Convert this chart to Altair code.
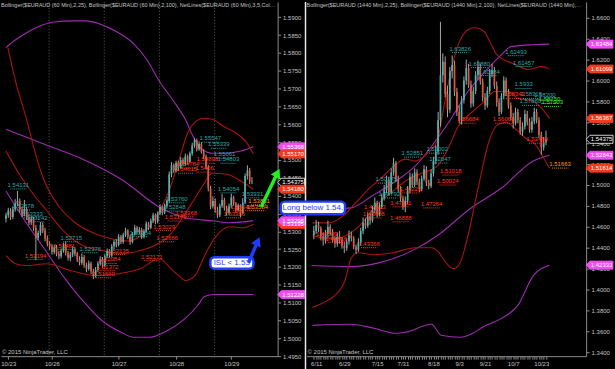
import altair as alt
import pandas as pd

# ---------------- left panel: EURAUD 60 min ----------------
L_open = [
 1.5335,1.5345,1.5358,1.5340,1.5362,1.5378,1.5385,1.5360,
 1.5348,1.5362,1.5340,1.5325,1.5335,1.5310,1.5282,1.5295,
 1.5318,1.5302,1.5280,1.5265,1.5258,1.5242,1.5255,1.5238,
 1.5230,1.5246,1.5260,1.5240,1.5225,1.5235,1.5250,1.5238,
 1.5221,1.5212,1.5228,1.5205,1.5195,1.5210,1.5188,1.5175,
 1.5192,1.5210,1.5222,1.5205,1.5230,1.5245,1.5232,1.5258,
 1.5270,1.5262,1.5285,1.5270,1.5290,1.5302,1.5285,1.5270,
 1.5292,1.5310,1.5298,1.5305,1.5285,1.5300,1.5322,1.5310,
 1.5330,1.5345,1.5328,1.5350,1.5368,1.5352,1.5370,1.5385,
 1.5460,1.5485,1.5470,1.5492,1.5478,1.5500,1.5488,1.5510,
 1.5495,1.5518,1.5540,1.5555,1.5530,1.5545,1.5522,1.5510,
 1.5480,1.5420,1.5370,1.5385,1.5360,1.5345,1.5372,1.5388,
 1.5365,1.5352,1.5370,1.5395,1.5378,1.5360,1.5372,1.5352,
 1.5380,1.5455,1.5470,1.5440]
L_close = [
 1.5345,1.5358,1.5340,1.5362,1.5378,1.5385,1.5360,1.5348,
 1.5362,1.5340,1.5325,1.5335,1.5310,1.5282,1.5295,1.5318,
 1.5302,1.5280,1.5265,1.5258,1.5242,1.5255,1.5238,1.5230,
 1.5246,1.5260,1.5240,1.5225,1.5235,1.5250,1.5238,1.5221,
 1.5212,1.5228,1.5205,1.5195,1.5210,1.5188,1.5175,1.5192,
 1.5210,1.5222,1.5205,1.5230,1.5245,1.5232,1.5258,1.5270,
 1.5262,1.5285,1.5270,1.5290,1.5302,1.5285,1.5270,1.5292,
 1.5310,1.5298,1.5305,1.5285,1.5300,1.5322,1.5310,1.5330,
 1.5345,1.5328,1.5350,1.5368,1.5352,1.5370,1.5385,1.5460,
 1.5485,1.5470,1.5492,1.5478,1.5500,1.5488,1.5510,1.5495,
 1.5518,1.5540,1.5555,1.5530,1.5545,1.5522,1.5510,1.5480,
 1.5420,1.5370,1.5385,1.5360,1.5345,1.5372,1.5388,1.5365,
 1.5352,1.5370,1.5395,1.5378,1.5360,1.5372,1.5352,1.5380,
 1.5455,1.5470,1.5440,1.5438]
L_high = [
 1.5352,1.5366,1.5365,1.5370,1.5390,1.5413,1.5392,1.5368,
 1.5388,1.5368,1.5348,1.5342,1.5340,1.5318,1.5302,1.5326,
 1.5325,1.5310,1.5288,1.5272,1.5265,1.5262,1.5262,1.5245,
 1.5252,1.5268,1.5272,1.5245,1.5242,1.5258,1.5255,1.5242,
 1.5230,1.5238,1.5234,1.5212,1.5218,1.5215,1.5195,1.5200,
 1.5216,1.5230,1.5228,1.5236,1.5252,1.5250,1.5264,1.5276,
 1.5278,1.5292,1.5290,1.5296,1.5310,1.5306,1.5290,1.5298,
 1.5318,1.5315,1.5312,1.5310,1.5306,1.5328,1.5326,1.5336,
 1.5352,1.5350,1.5356,1.5376,1.5372,1.5378,1.5390,1.5468,
 1.5494,1.5490,1.5498,1.5498,1.5508,1.5506,1.5518,1.5515,
 1.5524,1.5548,1.5561,1.5560,1.5552,1.5550,1.5530,1.5515,
 1.5486,1.5428,1.5398,1.5392,1.5368,1.5378,1.5405,1.5394,
 1.5372,1.5378,1.5406,1.5400,1.5382,1.5378,1.5376,1.5393,
 1.5462,1.5485,1.5478,1.5452]
L_low = [
 1.5325,1.5338,1.5332,1.5334,1.5355,1.5370,1.5352,1.5340,
 1.5342,1.5332,1.5318,1.5318,1.5302,1.5219,1.5275,1.5288,
 1.5295,1.5272,1.5258,1.5248,1.5235,1.5236,1.5230,1.5222,
 1.5224,1.5240,1.5232,1.5218,1.5216,1.5228,1.5230,1.5214,
 1.5205,1.5206,1.5198,1.5185,1.5190,1.5180,1.5166,1.5170,
 1.5186,1.5204,1.5198,1.5200,1.5224,1.5226,1.5228,1.5250,
 1.5255,1.5258,1.5264,1.5265,1.5284,1.5278,1.5262,1.5266,
 1.5288,1.5292,1.5292,1.5278,1.5280,1.5296,1.5304,1.5306,
 1.5324,1.5320,1.5322,1.5345,1.5345,1.5348,1.5365,1.5380,
 1.5452,1.5464,1.5465,1.5470,1.5474,1.5482,1.5484,1.5488,
 1.5490,1.5512,1.5534,1.5524,1.5526,1.5518,1.5502,1.5474,
 1.5412,1.5362,1.5364,1.5352,1.5338,1.5340,1.5366,1.5358,
 1.5344,1.5346,1.5365,1.5372,1.5352,1.5355,1.5340,1.5348,
 1.5376,1.5445,1.5432,1.5432]

# Bollinger(25) / Bollinger(100) bands, (bar, price)
L_up100 = [(0,1.5815),(4.2,1.5837),(8.3,1.5854),(13.8,1.5873),(20.9,1.5887),(29.2,1.5890),(34.6,1.5890),
           (40.5,1.5882),(48,1.5860),(55.5,1.5826),(61.3,1.5781),(66.8,1.5720),(73,1.5664),(78,1.5614),
           (81.4,1.5566),(84.7,1.5533),(89.7,1.5519),(96,1.5519),(102.2,1.5525),(107.6,1.5537)]
L_mid100 = [(0,1.5586),(16.7,1.5544),(33.4,1.5502),(50.1,1.5446),(68,1.5363),(78,1.5338),(90.5,1.5329),
            (97.2,1.5324),(107.6,1.5330)]
L_low100 = [(0,1.5413),(8.3,1.5329),(16.7,1.5251),(26.3,1.5162),(33.4,1.5106),(41.7,1.5050),(50.1,1.5017),
            (55.5,1.5003),(62.6,1.5003),(69.7,1.5020),(78,1.5056),(83.4,1.5092),(86.4,1.5117),(90.5,1.5123),
            (100.1,1.5123),(107.6,1.5123)]
L_up25 = [(0.8,1.5815),(4.2,1.5720),(9.2,1.5608),(12.5,1.5525),(16.7,1.5441),(22.9,1.5371),(29.2,1.5329),
          (38.8,1.5293),(45.9,1.5279),(53,1.5273),(58.4,1.5287),(62.6,1.5315),(66.8,1.5357),(70.9,1.5413),
          (75.1,1.5497),(79.3,1.5580),(82.6,1.5608),(85.5,1.5617),(89.7,1.5614),(94.7,1.5594),(100.1,1.5575),
          (104.3,1.5552),(107.6,1.5517)]
L_mid25 = [(0,1.5525),(6.3,1.5455),(12.5,1.5399),(17.9,1.5357),(25,1.5301),(33.4,1.5260),(41.7,1.5246),
           (50.1,1.5237),(58.4,1.5246),(64.7,1.5260),(70.9,1.5287),(77.2,1.5343),(81.4,1.5385),(85.5,1.5427),
           (89.7,1.5463),(96,1.5460),(102.2,1.5441),(107.6,1.5418)]
L_low25 = [(0,1.5232),(4.2,1.5209),(8.3,1.5204),(17.9,1.5209),(28,1.5190),(38.8,1.5176),(48.8,1.5181),
           (58.4,1.5195),(66.8,1.5223),(71.8,1.5195),(75.1,1.5176),(78,1.5162),(82.2,1.5176),(86.4,1.5232),
           (90.5,1.5279),(97.2,1.5313),(103,1.5310),(107.6,1.5320)]

L_lab_text = ['1.54131','1.53878','1.53333','1.53242','1.52715','1.52376','1.53064','1.53760','1.52848',
              '1.55547','1.55339','1.55061','1.54803','1.54054','1.53931',
              '1.52481','1.52194','1.52084','1.52135','1.52171','1.51372','1.51660','1.52666','1.53029',
              '1.53173','1.53368','1.54784','1.54615','1.54898','1.5466','1.53386','1.53548',
              '1.53861','1.53584']
L_lab_bar = [5.4,7.5,11.3,13.4,28.4,36.7,58.4,74.3,73.4,88.9,92.6,95.1,96.8,96.8,107.2,
             25.4,12.9,45.1,48.8,63.4,44.2,42.6,70.1,68.8,73.8,78.4,79.3,78.4,87.6,86.4,99.3,102.2,
             110.1,109.3]
L_lab_price = [1.5430,1.5371,1.5349,1.5338,1.5282,1.5251,1.5296,1.5391,1.5368,1.5561,1.5544,1.5516,1.5502,
               1.5419,1.5405,
               1.5260,1.5232,1.5221,1.5246,1.5229,1.5201,1.5181,1.5282,1.5313,1.5340,1.5352,1.5488,1.5474,
               1.5502,1.5477,1.5349,1.5369,
               1.5385,1.5369]
L_lab_kind = ['hi'] * 15 + ['lo'] * 17 + ['cur'] * 2

L_tag_price = [1.55368, 1.55170, 1.54375, 1.54180, 1.53195, 1.53298, 1.51228]
L_tag_text = ['1.55368', '1.55170', '1.54375', '1.54180', '1.53195', '1.53298', '1.51228']
L_tag_kind = ['bb100', 'bb25', 'last', 'bb25', 'bb25', 'bb100', 'bb100']

L_xtick_vals = [1, 20, 49, 74, 98]
L_xtick_labs = ['10/23', '10/26', '10/27', '10/28', '10/29']
L_grid = [18.75, 42.75, 66.75, 90.75]
L_yticks = [1.4950, 1.5000, 1.5050, 1.5100, 1.5150, 1.5200, 1.5250, 1.5300, 1.5350, 1.5400,
            1.5450, 1.5500, 1.5550, 1.5600, 1.5650, 1.5700, 1.5750, 1.5800, 1.5850, 1.5900]

# ---------------- right panel: EURAUD daily ----------------
R_bar = list(range(1, 101))
R_open = [
 1.4520,1.4560,1.4620,1.4585,1.4510,1.4470,1.4530,1.4600,1.4550,1.4480,
 1.4440,1.4505,1.4475,1.4420,1.4395,1.4460,1.4520,1.4490,1.4410,1.4380,
 1.4450,1.4560,1.4640,1.4610,1.4700,1.4660,1.4760,1.4830,1.4720,1.4790,
 1.4880,1.4950,1.5040,1.4930,1.5120,1.5210,1.5060,1.4960,1.4870,1.4790,
 1.4850,1.4950,1.5080,1.5000,1.5120,1.5030,1.4960,1.5060,1.5150,1.5020,
 1.4990,1.5110,1.5230,1.5320,1.5620,1.6050,1.6180,1.5870,1.5720,1.6090,
 1.6150,1.5890,1.5700,1.5620,1.5810,1.6000,1.6120,1.5960,1.5780,1.5900,
 1.6050,1.6130,1.5990,1.5840,1.5760,1.5900,1.6060,1.6100,1.5950,1.5790,
 1.5700,1.5850,1.6000,1.5880,1.5760,1.5650,1.5590,1.5700,1.5620,1.5510,
 1.5560,1.5680,1.5600,1.5530,1.5610,1.5700,1.5620,1.5480,1.5360,1.5410]
R_close = [
 1.4560,1.4620,1.4585,1.4510,1.4470,1.4530,1.4600,1.4550,1.4480,1.4440,
 1.4505,1.4475,1.4420,1.4395,1.4460,1.4520,1.4490,1.4410,1.4380,1.4450,
 1.4560,1.4640,1.4610,1.4700,1.4660,1.4760,1.4830,1.4720,1.4790,1.4880,
 1.4950,1.5040,1.4930,1.5120,1.5210,1.5060,1.4960,1.4870,1.4790,1.4850,
 1.4950,1.5080,1.5000,1.5120,1.5030,1.4960,1.5060,1.5150,1.5020,1.4990,
 1.5110,1.5230,1.5320,1.5620,1.6050,1.6180,1.5870,1.5720,1.6090,1.6150,
 1.5890,1.5700,1.5620,1.5810,1.6000,1.6120,1.5960,1.5780,1.5900,1.6050,
 1.6130,1.5990,1.5840,1.5760,1.5900,1.6060,1.6100,1.5950,1.5790,1.5700,
 1.5850,1.6000,1.5880,1.5760,1.5650,1.5590,1.5700,1.5620,1.5510,1.5560,
 1.5680,1.5600,1.5530,1.5610,1.5700,1.5620,1.5480,1.5360,1.5410,1.5438]
R_high = [
 1.4610,1.4665,1.4650,1.4605,1.4540,1.4570,1.4660,1.4625,1.4580,1.4510,
 1.4545,1.4560,1.4500,1.4460,1.4490,1.4565,1.4555,1.4510,1.4430,1.4490,
 1.4590,1.4690,1.4680,1.4740,1.4730,1.4800,1.4880,1.4850,1.4830,1.4920,
 1.5000,1.5090,1.5080,1.5160,1.5260,1.5230,1.5090,1.4990,1.4900,1.4890,
 1.4990,1.5120,1.5110,1.5160,1.5150,1.5060,1.5090,1.5190,1.5180,1.5050,
 1.5150,1.5270,1.5380,1.5700,1.6562,1.6260,1.6230,1.5950,1.6130,1.6240,
 1.6190,1.5930,1.5760,1.5850,1.6040,1.6200,1.6160,1.6000,1.5940,1.6090,
 1.6190,1.6160,1.6020,1.5880,1.5940,1.6110,1.6160,1.6130,1.5990,1.5830,
 1.5880,1.6040,1.6030,1.5920,1.5790,1.5690,1.5740,1.5730,1.5650,1.5600,
 1.5720,1.5710,1.5640,1.5650,1.5740,1.5730,1.5650,1.5510,1.5460,1.5520]
R_low = [
 1.4480,1.4530,1.4550,1.4470,1.4420,1.4440,1.4500,1.4520,1.4450,1.4400,
 1.4410,1.4440,1.4390,1.4350,1.4370,1.4430,1.4460,1.4385,1.4340,1.4360,
 1.4420,1.4530,1.4580,1.4590,1.4620,1.4640,1.4730,1.4690,1.4700,1.4770,
 1.4850,1.4920,1.4900,1.4910,1.5090,1.5030,1.4930,1.4840,1.4760,1.4740,
 1.4820,1.4920,1.4970,1.4980,1.5000,1.4930,1.4940,1.5040,1.4990,1.4960,
 1.4970,1.5080,1.5200,1.5290,1.5560,1.5980,1.5840,1.5650,1.5690,1.6020,
 1.5850,1.5660,1.5590,1.5580,1.5780,1.5960,1.5930,1.5740,1.5750,1.5870,
 1.6010,1.5960,1.5800,1.5720,1.5740,1.5870,1.6030,1.5920,1.5750,1.5660,
 1.5680,1.5820,1.5850,1.5730,1.5620,1.5540,1.5570,1.5590,1.5480,1.5470,
 1.5530,1.5570,1.5500,1.5500,1.5580,1.5590,1.5450,1.5290,1.5330,1.5380]

R_up100 = [(0,1.4781),(9.4,1.4771),(16.8,1.4781),(25.8,1.4895),(36,1.5038),(44.2,1.5181),(54.4,1.5467),
           (59.4,1.5629),(66.7,1.5895),(72.9,1.6057),(81,1.6248),(85.1,1.6324),(94.6,1.6343),(101.5,1.6348)]
R_mid100 = [(0,1.4229),(16.8,1.4219),(29.1,1.4257),(43,1.4372),(53.6,1.4514),(67.5,1.4771),(81,1.4971),
            (94.6,1.5229),(101.5,1.5284)]
R_low100 = [(0.4,1.3657),(16.8,1.3667),(26.6,1.3629),(36,1.3581),(40.1,1.3591),(51.2,1.3667),(55.3,1.3562),
            (63.4,1.3543),(68.8,1.3581),(72.9,1.3638),(81,1.3724),(88,1.3848),(94.6,1.4133),(101.5,1.4233)]
R_up25 = [(0.4,1.4638),(7.4,1.4638),(13.5,1.4705),(19.6,1.4848),(25.8,1.4991),(30.7,1.5086),(36,1.5200),
          (40.1,1.5248),(44.2,1.5229),(49.5,1.5305),(53.6,1.5419),(56.5,1.5752),(59.4,1.6086),(62.6,1.6343),
          (66.7,1.6486),(69.6,1.6505),(73.7,1.6467),(76.1,1.6371),(79,1.6248),(87.2,1.6152),(92.5,1.6105),
          (98.2,1.6133),(101.5,1.6110)]
R_mid25 = [(0.4,1.4514),(9.4,1.4486),(16.8,1.4543),(21.7,1.4638),(26.6,1.4781),(34.8,1.4943),(40.1,1.5038),
           (47.1,1.5114),(53.6,1.5181),(57.7,1.5324),(62.6,1.5562),(68.8,1.5705),(73.7,1.5800),(78.2,1.5895),
           (83.9,1.5895),(88,1.5829),(94.6,1.5800),(98.6,1.5724),(101.5,1.5637)]
R_low25 = [(0.4,1.3829),(5.3,1.3876),(9.4,1.3933),(14.3,1.4086),(16.8,1.4295),(19.6,1.4352),(26.6,1.4333),
           (34.8,1.4352),(44.2,1.4400),(51.2,1.4400),(54.4,1.4352),(57.3,1.4257),(60.6,1.4200),(63.4,1.4257),
           (66.7,1.4514),(70.8,1.4943),(75.7,1.5419),(79,1.5571),(83.1,1.5600),(87.2,1.5533),(91.3,1.5448),
           (95.4,1.5391),(98.6,1.5276),(101.5,1.5161)]

R_lab_text = ['1.63826','1.62493','1.60880','1.61457','1.60884','1.5933','1.58315','1.58200','1.57860',
              '1.52002','1.52047','1.52851','1.50175','1.49792',
              '1.56684','1.56068','1.58343','1.53469','1.51018','1.50024','1.49221','1.47264','1.47411',
              '1.46888','1.47313','1.46608','1.43366','1.45509','1.44616',
              '1.58750','1.57903','1.51663']
R_lab_bar = [63.4,87.2,71.6,90.5,75.7,90.5,93.7,99.5,93.3,53.6,54.8,43.0,31.9,33.2,
             66.7,81.9,86.4,96.2,59.4,58.1,42.2,51.2,38.1,38.1,27.0,26.6,24.6,6.5,10.6,
             101.5,102.7,106.0]
R_lab_price = [1.6305,1.6276,1.6162,1.6172,1.6086,1.5962,1.5867,1.5857,1.5800,1.5343,1.5248,1.5305,1.5057,1.4914,
               1.5629,1.5629,1.5867,1.5438,1.5133,1.5038,1.4962,1.4819,1.4829,1.4686,1.4790,1.4724,1.4438,
               1.4533,1.4486,
               1.5819,1.5790,1.5200]
R_lab_kind = ['hi'] * 14 + ['lo'] * 15 + ['grn'] * 2 + ['cur']

R_tag_price = [1.63484, 1.61099, 1.56367, 1.54375, 1.51614, 1.52843, 1.42333]
R_tag_text = ['1.63484', '1.61099', '1.56367', '1.54375', '1.51614', '1.52843', '1.42333']
R_tag_kind = ['bb100', 'bb25', 'bb25', 'last', 'bb25', 'bb100', 'bb100']

R_xtick_labvals = [2, 14, 28, 39, 52, 63, 74, 86, 98]
R_xtick_labs = ['6/11', '6/29', '7/15', '7/31', '8/18', '9/3', '9/21', '10/7', '10/23']
R_yticks = [1.34, 1.36, 1.38, 1.40, 1.42, 1.44, 1.46, 1.48, 1.50, 1.52, 1.54, 1.56, 1.58, 1.60, 1.62, 1.64, 1.66]

# annotations (data units of each panel)
ISL_box = dict(x0=[88.9], x1=[107.6], y0=[1.52275], y1=[1.51954], tx=[98.2], ty=[1.52118], text=['ISL < 1.53'])
LONG_box = dict(x0=[-13.1], x1=[14.3], y0=[1.48410], y1=[1.47210], tx=[0.6], ty=[1.47810], text=['Long below 1.54.'])
GREEN_arrow = dict(bar=[111.0, 118.1], price=[1.5368, 1.5464])
BLUE_arrow = dict(bar=[105.5, 109.5], price=[1.5212, 1.5272])

L_TITLE = "Bollinger($EURAUD (60 Min),2,25), Bollinger($EURAUD (60 Min),2,100), NetLines($EURAUD (60 Min),3,5,Color [Limit"
R_TITLE = "Bollinger($EURAUD (1440 Min),2,25), Bollinger($EURAUD (1440 Min),2,100), NetLines($EURAUD (1440 Min),3,5,Color [Limit"
COPY = "\u00a9 2015 NinjaTrader, LLC"

# ---------------- styling ----------------
FONT = "Liberation Sans"
AX = "#8c8c8c"; LBL = "#c4c4c4"
UP = "#52b4ae"; DN = "#e2573e"; WICK = "#a6a6a6"
RED_BB = "#a9150f"; PUR_BB = "#a02bb0"
KIND_COL = {"hi": "#2ea6a6", "lo": "#ff3a1a", "cur": "#ff9c00", "grn": "#2cf02c"}
TAG_FILL = {"bb100": "#f04cf0", "bb25": "#f23a1e", "last": "#000000"}
TAG_STROKE = {"bb100": "#f04cf0", "bb25": "#f23a1e", "last": "#ffffff"}
BLUE = "#1f3cff"; GREEN = "#22ee22"
TAG_PATH = "M-1,0 L-0.72,-0.3 L1,-0.3 L1,0.3 L-0.72,0.3 Z"


def label_expr(vals, labs):
    return " : ".join(f"datum.value == {v} ? '{l}'" for v, l in zip(vals, labs)) + " : ''"


def candles_df(bars, o, h, l, c):
    df = pd.DataFrame({"bar": bars, "open": o, "high": h, "low": l, "close": c})
    df["col"] = [UP if cc >= oo else DN for oo, cc in zip(df["open"], df["close"])]
    return df


def bands_df(bands):
    rows = []
    for name, (pts, col) in bands.items():
        for b, p in pts:
            rows.append({"bar": b, "price": p, "band": name, "col": col})
    return pd.DataFrame(rows)


def labels_df(text, bar, price, kind):
    df = pd.DataFrame({"text": text, "bar": bar, "price": price, "kind": kind})
    df["col"] = df["kind"].map(KIND_COL)
    df["b0"] = df["bar"] - 3.5
    df["b1"] = df["bar"] + 3.5
    return df


def tags_df(price, text, kind):
    df = pd.DataFrame({"price": price, "text": text, "kind": kind})
    df["fill"] = df["kind"].map(TAG_FILL)
    df["stroke"] = df["kind"].map(TAG_STROKE)
    return df


def panel(cdf, bdf, ldf, tdf, xdom, ydom, w, h, xaxis, yaxis, title, tag_x, pre=(), post=(), grid=None):
    xs = alt.Scale(domain=xdom, nice=False, zero=False)
    ys = alt.Scale(domain=ydom, nice=False, zero=False)
    X = lambda f: alt.X(f, type="quantitative", scale=xs, axis=xaxis)
    Y = lambda f: alt.Y(f, type="quantitative", scale=ys, axis=yaxis)
    one = pd.DataFrame({"k": [0]})
    layers = []
    for p in pre:
        layers.append(p(X, Y))
    if grid is not None:
        layers.append(alt.Chart(pd.DataFrame({"g": grid})).mark_rule(
            color="#5c5c5c", strokeDash=[1, 2], strokeWidth=1).encode(x=X("g")))
    layers.append(alt.Chart(bdf).mark_line(strokeWidth=1.1, interpolate="monotone").encode(
        x=X("bar"), y=Y("price"), detail="band:N", color=alt.Color("col:N", scale=None)))
    layers.append(alt.Chart(cdf).mark_rule(color=WICK, strokeWidth=1).encode(
        x=X("bar"), y=Y("low"), y2="high"))
    layers.append(alt.Chart(cdf).mark_bar(size=1.7).encode(
        x=X("bar"), y=Y("open"), y2="close", color=alt.Color("col:N", scale=None)))
    layers.append(alt.Chart(ldf).mark_rule(strokeDash=[1, 1], strokeWidth=1, yOffset=4).encode(
        x=X("b0"), x2="b1", y=Y("price"), color=alt.Color("col:N", scale=None)))
    layers.append(alt.Chart(ldf).mark_text(fontSize=6, baseline="middle").encode(
        x=X("bar"), y=Y("price"), text="text:N", color=alt.Color("col:N", scale=None)))
    layers.append(alt.Chart(one).mark_text(align="left", baseline="top", fontSize=5.5, color=LBL,
                                           limit=w - 2, ellipsis="").encode(
        x=alt.value(0), y=alt.value(1), text=alt.value(title)))
    layers.append(alt.Chart(one).mark_text(align="left", baseline="bottom", fontSize=6, color=LBL).encode(
        x=alt.value(1), y=alt.value(h - 1), text=alt.value(COPY)))
    layers.append(alt.Chart(tdf).mark_point(shape=TAG_PATH, size=729, filled=True, opacity=1,
                                            strokeWidth=0.8).encode(
        x=alt.value(tag_x), y=Y("price"),
        fill=alt.Fill("fill:N", scale=None), stroke=alt.Stroke("stroke:N", scale=None)))
    layers.append(alt.Chart(tdf).mark_text(fontSize=6, color="white", dx=2, baseline="middle").encode(
        x=alt.value(tag_x), y=Y("price"), text="text:N"))
    for p in post:
        layers.append(p(X, Y))
    return alt.layer(*layers).properties(width=w, height=h)


def box_layers(d):
    df = pd.DataFrame(d)
    def rect(X, Y):
        return alt.Chart(df).mark_rect(fill="white", stroke=BLUE, strokeWidth=2.5, cornerRadius=4).encode(
            x=X("x0"), x2="x1", y=Y("y0"), y2="y1")
    def txt(X, Y):
        return alt.Chart(df).mark_text(fontSize=8, color=BLUE, baseline="middle").encode(
            x=X("tx"), y=Y("ty"), text="text:N")
    return [rect, txt]


def arrow_layers(d, color, angle):
    df = pd.DataFrame(d)
    head = df.tail(1)
    def line(X, Y):
        return alt.Chart(df).mark_line(color=color, strokeWidth=3.5).encode(x=X("bar"), y=Y("price"))
    def tip(X, Y):
        return alt.Chart(head).mark_point(shape="triangle-up", filled=True, opacity=1, size=110,
                                          angle=angle, color=color).encode(x=X("bar"), y=Y("price"))
    return [line, tip]


def separator(X, Y):
    return alt.Chart(pd.DataFrame({"k": [0]})).mark_rule(color="#e8e8e8", strokeWidth=1.5).encode(
        x=alt.value(-1), y=alt.value(0), y2=alt.value(369))


def xaxis(vals, labvals, labs, flush):
    return alt.Axis(values=vals, labelExpr=label_expr(labvals, labs), title=None, grid=False,
                    tickSize=3, tickColor=AX, domainColor=AX, labelColor=LBL, labelFontSize=6,
                    labelPadding=1, labelFlush=flush, labelOverlap=False)


def yaxis(vals):
    return alt.Axis(orient="right", values=vals, format=".4f", title=None, grid=False, tickSize=3,
                    tickColor=AX, domainColor=AX, labelColor=LBL, labelFontSize=6, labelPadding=2,
                    labelOverlap=False)


left = panel(
    candles_df(list(range(len(L_close))), L_open, L_high, L_low, L_close),
    bands_df({"up100": (L_up100, PUR_BB), "mid100": (L_mid100, PUR_BB), "low100": (L_low100, PUR_BB),
              "up25": (L_up25, RED_BB), "mid25": (L_mid25, RED_BB), "low25": (L_low25, RED_BB)}),
    labels_df(L_lab_text, L_lab_bar, L_lab_price, L_lab_kind),
    tags_df(L_tag_price, L_tag_text, L_tag_kind),
    [0, 116], [1.4950, 1.59432], 278, 356,
    xaxis(L_xtick_vals, L_xtick_vals, L_xtick_labs, 5), yaxis(L_yticks),
    L_TITLE, 291.5,
    post=box_layers(ISL_box) + arrow_layers(GREEN_arrow, GREEN, 27) + arrow_layers(BLUE_arrow, BLUE, 24),
    grid=L_grid,
)

right = panel(
    candles_df(R_bar, R_open, R_high, R_low, R_close),
    bands_df({"up100": (R_up100, PUR_BB), "mid100": (R_mid100, PUR_BB), "low100": (R_low100, PUR_BB),
              "up25": (R_up25, RED_BB), "mid25": (R_mid25, RED_BB), "low25": (R_low25, RED_BB)}),
    labels_df(R_lab_text, R_lab_bar, R_lab_price, R_lab_kind),
    tags_df(R_tag_price, R_tag_text, R_tag_kind),
    [0, 115], [1.3362, 1.67524], 281, 356,
    xaxis(R_bar, R_xtick_labvals, R_xtick_labs, False), yaxis(R_yticks),
    R_TITLE, 294.5,
    pre=[separator],
    post=box_layers(LONG_box),
)

chart = alt.HConcatChart(hconcat=[left, right], spacing=29, bounds="flush",
                         background="#000000", padding=0).configure(font=FONT).configure_view(stroke=None)

chart.save("out.html", embed_options={"renderer": "svg", "actions": False})
